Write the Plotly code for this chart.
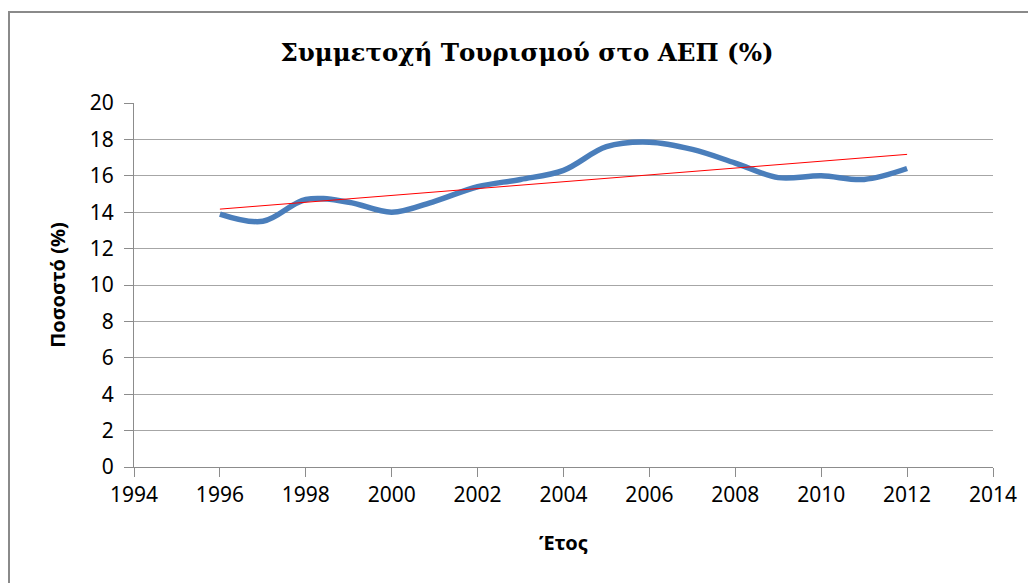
import numpy as np
import plotly.graph_objects as go

years = [1996, 1997, 1998, 1999, 2000, 2001, 2002, 2003, 2004,
         2005, 2006, 2007, 2008, 2009, 2010, 2011, 2012]
share = [13.9, 13.5, 14.7, 14.55, 14.0, 14.6, 15.4, 15.8, 16.3,
         17.6, 17.85, 17.45, 16.7, 15.9, 16.0, 15.8, 16.4]
title_text = "Συμμετοχή Τουρισμού στο ΑΕΠ (%)"
x_title = "Έτος"
y_title = "Ποσοστό (%)"

coef = np.polyfit(years, share, 1)
trend_x = [years[0], years[-1]]
trend_y = [float(np.polyval(coef, v)) for v in trend_x]

SANS = "Noto Sans, Open Sans, sans-serif"
tick_font = dict(family=SANS, size=21, color="#000")

fig = go.Figure()
fig.add_trace(go.Scatter(x=years, y=share, mode="lines",
                         line=dict(color="#4A7EBB", width=5.5, shape="spline", smoothing=1.0),
                         showlegend=False, hoverinfo="x+y"))
fig.add_trace(go.Scatter(x=trend_x, y=trend_y, mode="lines",
                         line=dict(color="#FF0000", width=1),
                         showlegend=False))

OFF = 8  # page body margin
W, H = 1036 - OFF, 583 - OFF
L, T = 134 - OFF, 103 - OFF
R = 1036 - 993
B = 583 - 467
pw, ph = W - L - R, H - T - B


def px(page_x):
    return (page_x - OFF - L) / pw


def py(page_y):
    return (H - B - (page_y - OFF)) / ph


fig.update_layout(
    width=W, height=H,
    margin=dict(l=L, r=R, t=T, b=B),
    paper_bgcolor="white", plot_bgcolor="white",
    title=dict(text="<b>" + title_text + "</b>", x=(527 - OFF) / W, xanchor="center",
               y=1 - (52 - OFF) / H, yanchor="middle",
               font=dict(family="DejaVu Serif, Liberation Serif, serif", size=24.5, color="#000")),
    xaxis=dict(range=[1994, 2014], dtick=2, tick0=1994, showgrid=False,
               showline=True, linecolor="#8c8c8c", linewidth=1,
               ticks="outside", ticklen=9, tickcolor="#8c8c8c",
               tickfont=tick_font, zeroline=False,
               title=dict(text="<b>" + x_title + "</b>", standoff=28,
                          font=dict(family=SANS, size=20, color="#000"))),
    yaxis=dict(range=[0, 20], dtick=2, showgrid=True, gridcolor="#a6a6a6", gridwidth=1,
               showline=True, linecolor="#8c8c8c", linewidth=1,
               ticks="outside", ticklen=9, tickcolor="#8c8c8c",
               ticklabelstandoff=6,
               tickfont=tick_font, zeroline=False,
               title=dict(text="<b>" + y_title + "</b>", standoff=18,
                          font=dict(family=SANS, size=20, color="#000"))),
    shapes=[
        dict(type="line", xref="paper", yref="paper",
             x0=px(8), x1=px(1036), y0=py(12), y1=py(12),
             line=dict(color="#8a8a8a", width=2)),
        dict(type="line", xref="paper", yref="paper",
             x0=px(9), x1=px(9), y0=py(12), y1=py(590),
             line=dict(color="#8a8a8a", width=2)),
    ],
)

fig.write_html("out.html")
